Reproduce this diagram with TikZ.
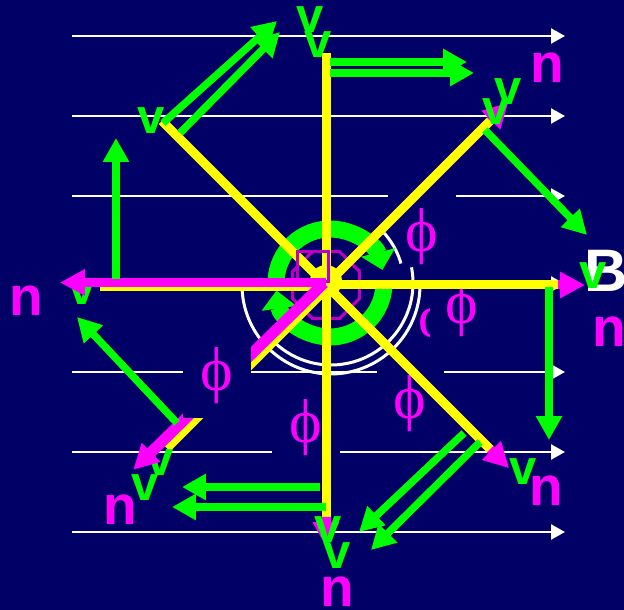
\documentclass[tikz,border=0pt]{standalone}
\usepackage{fontspec}
\setmainfont{Liberation Sans}
\newfontfamily\fuenteGriega{Liberation Serif}
\usepackage{xcolor}
\definecolor{fondoDiag}{HTML}{000066}
\definecolor{amarilloDiag}{HTML}{FFFF00}
\definecolor{magentaDiag}{HTML}{FF00FF}
\definecolor{verdeDiag}{HTML}{00FF00}
\definecolor{moradoDiag}{HTML}{C000C0}
\usepackage{tikz}
\usetikzlibrary{arrows.meta,shapes.geometric}

\tikzset{
  campo/.style={white,line width=2.5bp,-{Triangle[length=14bp,width=15bp]}},
  radio/.style={amarilloDiag,line width=9bp},
  normalN/.style={magentaDiag,line width=9bp,-{Triangle[length=25bp,width=25bp]}},
  velV/.style={verdeDiag,line width=7.5bp,-{Triangle[length=24bp,width=25bp]}},
  angulo/.style={white,line width=3bp},
  etqV/.style={text=verdeDiag,inner sep=0pt,font=\bfseries\fontsize{49bp}{49bp}\selectfont},
  etqN/.style={text=magentaDiag,inner sep=0pt,font=\bfseries\fontsize{55bp}{55bp}\selectfont},
  etqPhi/.style={text=magentaDiag,inner sep=0pt,font=\fuenteGriega\fontsize{62bp}{62bp}\selectfont},
}

\begin{document}
\begin{tikzpicture}[x=1bp,y=1bp]

% Fondo
\fill[fondoDiag] (-328,-325) rectangle (296,285);
\useasboundingbox (-328,-325) rectangle (296,285);
\coordinate (O) at (-2,0);

% Lineas de campo
\foreach \yy in {249,169,89,1,-87,-167,-247}
  \draw[campo] (-256,\yy) -- (237,\yy);

% Angulos (cajas de texto)
\node[etqPhi,fill=fondoDiag,minimum width=68bp,minimum height=86bp] (phiA) at (94,48) {ϕ};
\node[etqPhi,fill=fondoDiag,minimum width=67bp,minimum height=80bp] (phiE) at (82,-119) {ϕ};
\node[etqPhi] (phiF) at (107,-38) {ϕ};
\node[etqPhi,fill=fondoDiag,minimum width=64bp,minimum height=90bp] (phiB) at (134,-24) {ϕ};

% Arcos
\coordinate (cA) at (3,0);
\coordinate (cB) at (3,2);
\draw[angulo] ([shift={(178:89)}]cA) arc[start angle=178,end angle=363,radius=89];
\draw[angulo] ([shift={(11:82)}]cB) arc[start angle=11,end angle=-137,radius=82];
\draw[angulo] ([shift={(44:78)}]O) arc[start angle=44,end angle=16,radius=78];

% Normales (debajo)
\foreach \a/\r in {45/258,0/259,-45/259,-90/262}
  \draw[normalN] (O) -- ++(\a:\r);
\node[etqPhi,fill=fondoDiag,minimum width=67bp,minimum height=80bp] (phiD) at (-22,-143) {ϕ};

% Anillo de giro
\coordinate (R) at (2,2);
\draw[verdeDiag,line width=17bp,-{Triangle[length=18bp,width=34bp]}]
    ([shift={(178:54)}]R) arc[start angle=178,end angle=14,radius=54];
\draw[verdeDiag,line width=17bp,-{Triangle[length=18bp,width=34bp]}]
    ([shift={(-2:54)}]R) arc[start angle=-2,end angle=-172,radius=54];
\node[regular polygon,regular polygon sides=8,draw=moradoDiag,line width=3bp,
    minimum size=72bp,inner sep=0pt] (octo) at (O) {};

% Radios
\foreach \a in {90,45,0,-45,-90,135}
  \draw[radio] (O) -- ++(\a:232);
\draw[radio] ([yshift=-2bp]O) -- ++(180:226);
\draw[radio] ([shift={(2,-2)}]O) -- ++(-135:228);
\node[circle,fill=amarilloDiag,minimum size=32bp,inner sep=0pt] (nucleo) at (-2,4) {};
\node[draw=moradoDiag,line width=3.5bp,minimum width=31bp,minimum height=30bp,
    inner sep=0pt] (cuadro) at (-15,18.5) {};

% Etiquetas v (debajo)
\node[etqV] (vL) at (-246,-7) {v};
\node[etqV] (vLLa) at (-183,-203) {v};
\node[etqV] (vLLb) at (-168,-178) {v};
\node[etqV] (vDa) at (0,-245) {v};

% Normales (encima)
\draw[normalN] ([yshift=2.5bp]O) -- ++(180:266);
\draw[normalN,line width=11bp] ([shift={(-2,2)}]O) -- ++(-135.6:267);
\node[etqPhi,fill=fondoDiag,minimum width=67bp,minimum height=83bp] (phiC) at (-111,-91) {ϕ};

% Velocidades
\draw[velV] (2,223) -- (139,223);
\draw[velV] (2,212) -- (146,212);
\draw[velV] (-165,162) -- (-51,264);
\draw[velV] (-148,152) -- (-48,253);
\draw[velV] (157,155) -- (259,50);
\draw[velV] (221,-2) -- (221,-155);
\draw[velV] (136,-148) -- (31,-247);
\draw[velV] (152,-157) -- (43,-265);
\draw[velV] (-8,-202) -- (-146,-202);
\draw[velV] (-2,-222) -- (-156,-222);
\draw[velV] (-151,-138) -- (-251,-32);
\draw[velV] (-212,6) -- (-212,147);

% Etiquetas
\node[text=white,inner sep=0pt,font=\bfseries\fontsize{60bp}{60bp}\selectfont] (campoB) at (278,14) {B};

\node[etqV] (vTa) at (-18,265) {v};
\node[etqV] (vTb) at (-10,240) {v};
\node[etqV] (vUL) at (-177,164) {v};
\node[etqV] (vURa) at (180,193) {v};
\node[etqV] (vURb) at (168,173) {v};
\node[etqV] (vR) at (265,9) {v};
\node[etqV] (vLR) at (195,-187) {v};
\node[etqV] (vDb) at (9,-271) {v};

\node[etqN] (nUR) at (219,217.5) {n};
\node[etqN] (nL) at (-301.5,-16) {n};
\node[etqN] (nR) at (281,-47) {n};
\node[etqN] (nLL) at (-208,-225) {n};
\node[etqN] (nLR) at (218,-206) {n};
\node[etqN] (nD) at (9.5,-307) {n};

\end{tikzpicture}
\end{document}
